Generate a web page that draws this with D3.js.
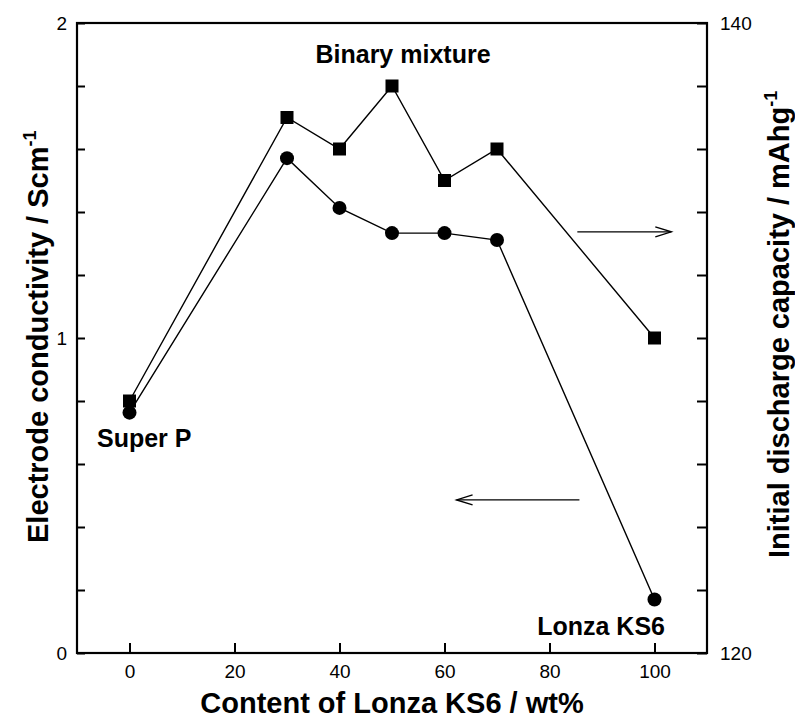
<!DOCTYPE html>
<html><head><meta charset="utf-8">
<script src="https://cdn.jsdelivr.net/npm/d3@7"></script>
<style>body{margin:0;background:#fff}svg{display:block;font-family:"Liberation Sans",Arial,sans-serif}</style>
</head><body>
<svg id="c" width="795" height="718"></svg>
<script>
const content = [0, 30, 40, 50, 60, 70, 100];
const conductivity = [0.763, 1.571, 1.413, 1.333, 1.333, 1.311, 0.170];
const capacity = [128.0, 137.0, 136.0, 138.0, 135.0, 136.0, 130.0];
const xTicks = [0, 20, 40, 60, 80, 100];
const yLeftLabels = [0, 1, 2];
const yRightLabels = [120, 140];

const FONT = '"Liberation Sans",Arial,sans-serif';
const svg = d3.select("#c");
const L = 77, R = 707, T = 23, B = 653;
const x = d3.scaleLinear().domain([-10, 110]).range([L, R]);
const yL = d3.scaleLinear().domain([0, 2]).range([B, T]);
const yR = d3.scaleLinear().domain([120, 140]).range([B, T]);

// frame
svg.append("rect").attr("x", L).attr("y", T).attr("width", R - L).attr("height", B - T)
  .attr("fill", "none").attr("stroke", "#000").attr("stroke-width", 2.2);

function styleAxis(g) {
  g.attr("font-family", FONT).attr("font-size", 19);
  g.select(".domain").remove();
  g.selectAll("line").attr("stroke-width", 2);
  g.selectAll("text").attr("fill", "#000");
}

// x axis
svg.append("g").attr("transform", `translate(0,${B})`)
  .call(d3.axisBottom(x).tickValues(xTicks).tickSizeInner(-10).tickSizeOuter(0).tickPadding(12))
  .call(styleAxis);

// left axis
svg.append("g").attr("transform", `translate(${L},0)`)
  .call(d3.axisLeft(yL).tickValues(d3.range(0, 2.01, 0.2)).tickSizeInner(-8).tickSizeOuter(0).tickPadding(10)
    .tickFormat(d => yLeftLabels.some(v => Math.abs(v - d) < 1e-6) ? d3.format("d")(d) : ""))
  .call(styleAxis);

// right axis
svg.append("g").attr("transform", `translate(${R},0)`)
  .call(d3.axisRight(yR).tickValues(d3.range(120, 140.01, 2)).tickSizeInner(-10).tickSizeOuter(0).tickPadding(13)
    .tickFormat(d => yRightLabels.includes(Math.round(d)) ? d3.format("d")(d) : ""))
  .call(styleAxis);

// lines
const pts = content.map((c, i) => ({c, k: conductivity[i], q: capacity[i]}));
svg.append("path").datum(pts)
  .attr("d", d3.line().x(d => x(d.c)).y(d => yR(d.q)))
  .attr("fill", "none").attr("stroke", "#000").attr("stroke-width", 1.4);
svg.append("path").datum(pts)
  .attr("d", d3.line().x(d => x(d.c)).y(d => yL(d.k)))
  .attr("fill", "none").attr("stroke", "#000").attr("stroke-width", 1.4);

svg.selectAll("rect.sq").data(pts).join("rect").attr("class", "sq")
  .attr("x", d => x(d.c) - 6.5).attr("y", d => yR(d.q) - 6.5)
  .attr("width", 13).attr("height", 13).attr("fill", "#000");
svg.selectAll("circle.ci").data(pts).join("circle").attr("class", "ci")
  .attr("cx", d => x(d.c)).attr("cy", d => yL(d.k)).attr("r", 7).attr("fill", "#000");

// arrows
function arrow(x1, x2, yy) {
  const dir = Math.sign(x2 - x1);
  svg.append("line").attr("x1", x1).attr("x2", x2).attr("y1", yy).attr("y2", yy)
    .attr("stroke", "#000").attr("stroke-width", 1.4);
  svg.append("path")
    .attr("d", `M${x2 - dir * 16},${yy - 5}L${x2},${yy}L${x2 - dir * 16},${yy + 5}`)
    .attr("fill", "none").attr("stroke", "#000").attr("stroke-width", 1.4);
}
arrow(x(85.3), x(103.2), yR(133.37));
arrow(x(85.7), x(62.3), yL(0.486));

// annotations
const ann = svg.append("g").attr("font-weight", "bold").attr("font-size", 25).attr("fill", "#000");
ann.append("text").attr("x", 403).attr("y", 63).attr("text-anchor", "middle").text("Binary mixture");
ann.append("text").attr("x", 97).attr("y", 447).text("Super P");
ann.append("text").attr("x", 665).attr("y", 635).attr("text-anchor", "end").text("Lonza KS6");

// axis titles
const tt = svg.append("g").attr("font-weight", "bold").attr("font-size", 29).attr("fill", "#000");
tt.append("text").attr("x", 392).attr("y", 713).attr("text-anchor", "middle").text("Content of Lonza KS6 / wt%");
const lt = tt.append("text").attr("transform", "translate(48,543) rotate(-90)");
lt.append("tspan").text("Electrode conductivity / Scm");
lt.append("tspan").attr("font-size", 18).attr("dy", -12).text("-1");
const rt = tt.append("text").attr("transform", "translate(789,558) rotate(-90)");
rt.append("tspan").text("Initial discharge capacity / mAhg");
rt.append("tspan").attr("font-size", 18).attr("dy", -12).text("-1");
</script>
</body></html>
